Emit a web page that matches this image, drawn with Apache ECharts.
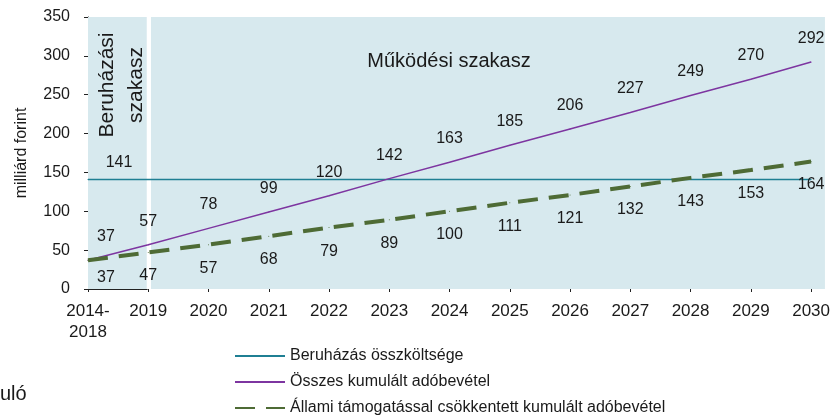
<!DOCTYPE html>
<html>
<head>
<meta charset="utf-8">
<script src="https://cdn.jsdelivr.net/npm/echarts@6/dist/echarts.min.js"></script>
<style>
  html, body { margin: 0; padding: 0; background: #fff; }
  #chart { width: 833px; height: 417px; }
</style>
</head>
<body>
<div id="chart"></div>
<script>
// Periods on the horizontal axis (first one spans the construction years)
const categories = ['2014-\n2018', '2019', '2020', '2021', '2022', '2023', '2024',
  '2025', '2026', '2027', '2028', '2029', '2030'];

// Total investment cost, billion HUF
const investmentCost = [141, 141, 141, 141, 141, 141, 141, 141, 141, 141, 141, 141, 141];
// Total cumulative tax revenue
const totalTaxRevenue = [37, 57, 78, 99, 120, 142, 163, 185, 206, 227, 249, 270, 292];
// Cumulative tax revenue reduced by state subsidy
const reducedTaxRevenue = [37, 47, 57, 68, 79, 89, 100, 111, 121, 132, 143, 153, 164];

// Vertical axis ticks
const yTicks = [0, 50, 100, 150, 200, 250, 300, 350];

const seriesNames = ['Beruházás összköltsége', 'Összes kumulált adóbevétel',
  'Állami támogatással csökkentett kumulált adóbevétel'];

const FONT = "'Liberation Sans', Arial, sans-serif";
const TEXT = '#1a1a1a';
const BG = '#d7e9ee';
const X_MAX = 12.23;

const toPairs = arr => arr.map((v, i) => [i, v]);

const chart = echarts.init(document.getElementById('chart'), null, { renderer: 'canvas' });

const option = {
  animation: false,
  textStyle: { fontFamily: FONT, color: TEXT },
  grid: { left: 88, top: 17, right: 7, bottom: 128, containLabel: false },
  xAxis: {
    type: 'value',
    min: 0,
    max: X_MAX,
    interval: 1,
    splitLine: { show: false },
    axisLine: { show: false },
    axisTick: {
      show: true, length: 3, inside: false,
      customValues: categories.map((_, i) => i),
      lineStyle: { color: '#222', width: 1 }
    },
    axisLabel: {
      customValues: categories.map((_, i) => i),
      formatter: v => categories[Math.round(v)] || '',
      fontSize: 17, fontFamily: FONT, color: TEXT, margin: 12, lineHeight: 21
    }
  },
  yAxis: {
    type: 'value',
    min: yTicks[0],
    max: yTicks[yTicks.length - 1],
    interval: 50,
    name: 'milliárd forint',
    nameLocation: 'middle',
    nameGap: 58,
    nameTextStyle: { fontSize: 16, fontFamily: FONT, color: TEXT },
    splitLine: { show: false },
    axisLine: { show: true, lineStyle: { color: '#222', width: 1 } },
    axisTick: { show: true, length: 4, inside: false, lineStyle: { color: '#222' } },
    axisLabel: { fontSize: 16, fontFamily: FONT, color: TEXT, margin: 18 }
  },
  legend: {
    orient: 'vertical',
    left: 234,
    top: 348,
    height: 90,
    padding: 0,
    itemWidth: 50,
    itemHeight: 14,
    itemGap: 10,
    data: seriesNames,
    itemStyle: { opacity: 0 },
    textStyle: { fontSize: 16, fontFamily: FONT, color: TEXT, padding: 0 }
  },
  graphic: [
    {
      type: 'text', x: 449, y: 61, z: 10,
      style: { text: 'Működési szakasz', fontSize: 20, fontFamily: FONT, fill: TEXT,
        align: 'center', verticalAlign: 'middle' }
    },
    {
      type: 'text', x: 122, y: 85, rotation: Math.PI / 2, z: 10,
      style: { text: 'Beruházási\nszakasz', fontSize: 21, fontFamily: FONT, fill: TEXT,
        align: 'center', verticalAlign: 'middle', lineHeight: 29 }
    },
    {
      type: 'text', left: 0, top: 384, z: 10,
      style: { text: 'uló', fontSize: 20, fontFamily: FONT, fill: TEXT }
    }
  ],
  series: [
    {
      // phase backgrounds and the short baseline under the construction phase
      type: 'line',
      name: '__bg',
      data: [],
      z: 1,
      silent: true,
      markArea: {
        silent: true,
        itemStyle: { color: BG },
        data: [
          [{ coord: [0, 0] }, { coord: [0.975, 350] }],
          [{ coord: [1.045, 0] }, { coord: [X_MAX, 350] }]
        ]
      },
      markLine: {
        silent: true,
        symbol: 'none',
        label: { show: false },
        lineStyle: { color: '#222', width: 1, type: 'solid' },
        data: [[{ coord: [0, 0] }, { coord: [0.99, 0] }]]
      }
    },
    {
      name: seriesNames[0],
      type: 'line',
      z: 3,
      data: toPairs(investmentCost).map((p, i) => i === 0
        ? { value: p, label: { show: true, position: 'top', distance: 8, offset: [31, 0] } }
        : { value: p }),
      symbol: 'circle',
      symbolSize: 1,
      itemStyle: { color: '#1f7f93' },
      lineStyle: { color: '#1f7f93', width: 1.5 },
      label: { show: false, fontSize: 16, fontFamily: FONT, color: TEXT,
        formatter: p => p.value[1] },
      emphasis: { disabled: true }
    },
    {
      name: seriesNames[1],
      type: 'line',
      z: 4,
      data: toPairs(totalTaxRevenue).map((p, i) => i === 0
        ? { value: p, label: { offset: [18, 0] } }
        : { value: p }),
      symbol: 'circle',
      symbolSize: 1,
      itemStyle: { color: '#7d35a0' },
      lineStyle: { color: '#7d35a0', width: 1.5 },
      label: { show: true, position: 'top', distance: 15, fontSize: 16,
        fontFamily: FONT, color: TEXT, formatter: p => p.value[1] },
      emphasis: { disabled: true }
    },
    {
      name: seriesNames[2],
      type: 'line',
      z: 5,
      data: toPairs(reducedTaxRevenue).map((p, i) => i === 0
        ? { value: p, label: { offset: [18, -6] } }
        : { value: p }),
      symbol: 'circle',
      symbolSize: 1,
      itemStyle: { color: '#4e6b35' },
      lineStyle: { color: '#4e6b35', width: 4, type: [20, 11] },
      label: { show: true, position: 'bottom', distance: 15, fontSize: 16,
        fontFamily: FONT, color: TEXT, formatter: p => p.value[1] },
      emphasis: { disabled: true }
    }
  ]
};

chart.setOption(option);
</script>
</body>
</html>
